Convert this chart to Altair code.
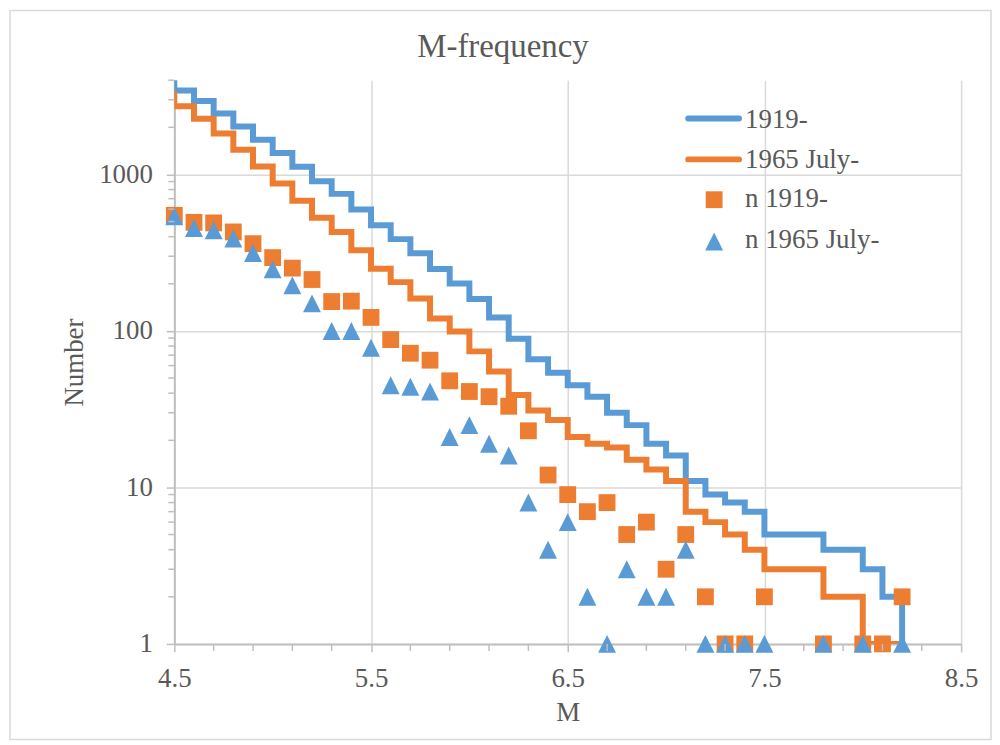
import altair as alt
import pandas as pd

# ---------------- data ----------------
# cumulative step lines (value over [M, M+0.1))
step_m = [4.4, 4.5, 4.6, 4.7, 4.8, 4.9, 5.0, 5.1, 5.2, 5.3, 5.4, 5.5, 5.6, 5.7, 5.8, 5.9,
          6.0, 6.1, 6.2, 6.3, 6.4, 6.5, 6.6, 6.7, 6.8, 6.9, 7.0, 7.1, 7.2, 7.3, 7.4, 7.5,
          7.6, 7.7, 7.8, 7.9, 8.0, 8.1, 8.2]
cum_1919 = [3986, 3438, 2944, 2454, 2025, 1664, 1370, 1118, 905, 751, 596, 474, 386, 314, 249, 201,
            160, 122, 89, 66, 54, 45, 38, 30, 25, 19, 16, 11, 9, 8, 7, 5,
            5, 5, 4, 4, 3, 2, 1]
cum_1965 = [3262, 2722, 2267, 1827, 1437, 1122, 874, 678, 528, 428, 328, 250, 205, 161, 120, 99,
            74, 55, 39, 31, 27, 21, 19, 18, 15, 13, 11, 7, 6, 5, 4, 3,
            3, 3, 2, 2, 1, 1, 1]

# per-bin counts (squares: n 1919-, triangles: n 1965 July-)
sq_m = [4.5, 4.6, 4.7, 4.8, 4.9, 5.0, 5.1, 5.2, 5.3, 5.4, 5.5, 5.6, 5.7, 5.8, 5.9, 6.0,
        6.1, 6.2, 6.3, 6.4, 6.5, 6.6, 6.7, 6.8, 6.9, 7.0, 7.1, 7.2, 7.3, 7.4, 7.5, 7.8,
        8.0, 8.1, 8.2]
sq_n = [548, 494, 490, 429, 361, 294, 252, 213, 154, 155, 122, 88, 72, 65, 48, 41,
        38, 33, 23, 12, 9, 7, 8, 5, 6, 3, 5, 2, 1, 1, 2, 1,
        1, 1, 2]
tri_m = [4.5, 4.6, 4.7, 4.8, 4.9, 5.0, 5.1, 5.2, 5.3, 5.4, 5.5, 5.6, 5.7, 5.8, 5.9, 6.0,
         6.1, 6.2, 6.3, 6.4, 6.5, 6.6, 6.7, 6.8, 6.9, 7.0, 7.1, 7.2, 7.3, 7.4, 7.5, 7.8,
         8.0, 8.2]
tri_n = [540, 455, 440, 390, 315, 248, 196, 150, 100, 100, 78, 45, 44, 41, 21, 25,
         19, 16, 8, 4, 6, 2, 1, 3, 2, 2, 4, 1, 1, 1, 1, 1,
         1, 1]

x_major = [4.5, 5.5, 6.5, 7.5, 8.5]
x_minor = [4.7, 4.9, 5.1, 5.3, 5.7, 5.9, 6.1, 6.3, 6.7, 6.9, 7.1, 7.3, 7.7, 7.9, 8.1, 8.3]
y_major = [1, 10, 100, 1000]
y_minor = [2, 3, 4, 5, 6, 7, 8, 9, 20, 30, 40, 50, 60, 70, 80, 90,
           200, 300, 400, 500, 600, 700, 800, 900, 2000, 3000, 4000]

series_names = ["1919-", "1965 July-", "n 1919-", "n 1965 July-"]
chart_title = "M-frequency"
x_title = "M"
y_title = "Number"

# ---------------- style ----------------
BLUE = "#5B9BD5"
ORANGE = "#ED7D31"
TXT = "#595959"
GRID = "#D9D9D9"
AXC = "#BFBFBF"
FONT = "Liberation Serif"
TRI = "M0,-1L1,1L-1,1Z"
LW = 6

W, H = 790, 566

x_scale = alt.Scale(domain=[4.5, 8.5], nice=False, zero=False)
y_scale = alt.Scale(type="log", domain=[1, 4000], nice=False)

x_axis = alt.Axis(values=x_major, format=".1f", title=x_title, grid=True, gridColor=GRID,
                  gridWidth=1.5, domainColor=AXC, domainWidth=2, tickColor=AXC, tickWidth=1.5,
                  tickSize=8, labelFont=FONT, labelFontSize=27, labelColor=TXT,
                  labelPadding=35, labelBaseline="alphabetic", labelFlush=False,
                  titleFont=FONT, titleFontSize=27, titleColor=TXT, titleFontWeight="normal",
                  titleX=W / 2, titleY=77, titleBaseline="alphabetic", titleAlign="center")
y_axis = alt.Axis(values=y_major, format="d", title=y_title, grid=True, gridColor=GRID,
                  gridWidth=1.5, domainColor=AXC, domainWidth=2, tickColor=AXC, tickWidth=1.5,
                  tickSize=8, labelFont=FONT, labelFontSize=27, labelColor=TXT,
                  labelPadding=14, labelBaseline="middle",
                  titleFont=FONT, titleFontSize=27, titleColor=TXT, titleFontWeight="normal",
                  titleX=-92, titleY=H / 2, titleAngle=270, titleBaseline="alphabetic",
                  titleAlign="center")


def xe():
    return alt.X("M:Q", scale=x_scale, axis=x_axis)


def ye():
    return alt.Y("N:Q", scale=y_scale, axis=y_axis)


one = pd.DataFrame({"d": [0]})

border = alt.Chart(one).mark_rect(fill="white", fillOpacity=0, stroke=GRID, strokeWidth=1.5).encode(
    x=alt.value(-165), x2=alt.value(820), y=alt.value(-70), y2=alt.value(662))

df_b = pd.DataFrame({"M": step_m, "N": cum_1919})
df_o = pd.DataFrame({"M": step_m, "N": cum_1965})
df_sq = pd.DataFrame({"M": sq_m, "N": sq_n})
df_tri = pd.DataFrame({"M": tri_m, "N": tri_n})

line_b = alt.Chart(df_b).mark_line(interpolate="step-after", color=BLUE, strokeWidth=LW,
                                   clip=True).encode(x=xe(), y=ye())
line_o = alt.Chart(df_o).mark_line(interpolate="step-after", color=ORANGE, strokeWidth=LW,
                                   clip=True).encode(x=xe(), y=ye())
squares = alt.Chart(df_sq).mark_point(shape="square", filled=True, size=285, color=ORANGE,
                                      opacity=1).encode(x=xe(), y=ye())
triangles = alt.Chart(df_tri).mark_point(shape=TRI, filled=True, size=324, color=BLUE,
                                         opacity=1).encode(x=xe(), y=ye())

yminor = alt.Chart(pd.DataFrame({"N": y_minor})).mark_rule(color=AXC, strokeWidth=1.5).encode(
    y=ye(), x=alt.value(-6), x2=alt.value(0))
xminor = alt.Chart(pd.DataFrame({"M": x_minor})).mark_rule(color=AXC, strokeWidth=1.5).encode(
    x=xe(), y=alt.value(H), y2=alt.value(H + 7))

# legend
leg_b = alt.Chart(one).mark_rule(color=BLUE, strokeWidth=LW, strokeCap="round").encode(
    x=alt.value(516), x2=alt.value(567), y=alt.value(38.5))
leg_o = alt.Chart(one).mark_rule(color=ORANGE, strokeWidth=LW, strokeCap="round").encode(
    x=alt.value(516), x2=alt.value(567), y=alt.value(79.5))
leg_sq = alt.Chart(one).mark_point(shape="square", filled=True, size=285, color=ORANGE,
                                   opacity=1).encode(x=alt.value(542), y=alt.value(120))
leg_tri = alt.Chart(one).mark_point(shape=TRI, filled=True, size=324, color=BLUE,
                                    opacity=1).encode(x=alt.value(542), y=alt.value(162))
leg_texts = []
for name, yb in zip(series_names, [47.5, 88.5, 127.5, 168.5]):
    leg_texts.append(
        alt.Chart(one).mark_text(font=FONT, fontSize=27, color=TXT, align="left",
                                 baseline="alphabetic").encode(
            x=alt.value(573), y=alt.value(yb), text=alt.value(name)))

title_mark = alt.Chart(one).mark_text(font=FONT, fontSize=33, color=TXT, align="center",
                                      baseline="alphabetic").encode(
    x=alt.value(330), y=alt.value(-23), text=alt.value(chart_title))

chart = alt.layer(border, line_b, line_o, squares, triangles, yminor, xminor,
                  leg_b, leg_o, leg_sq, leg_tri, *leg_texts, title_mark).properties(
    width=W, height=H, autosize=alt.AutoSizeParams(type="none"),
    padding={"left": 167, "top": 71, "right": 31, "bottom": 97}
).configure_view(stroke="transparent")

chart.save("out.html", embed_options={"renderer": "svg", "actions": False})
